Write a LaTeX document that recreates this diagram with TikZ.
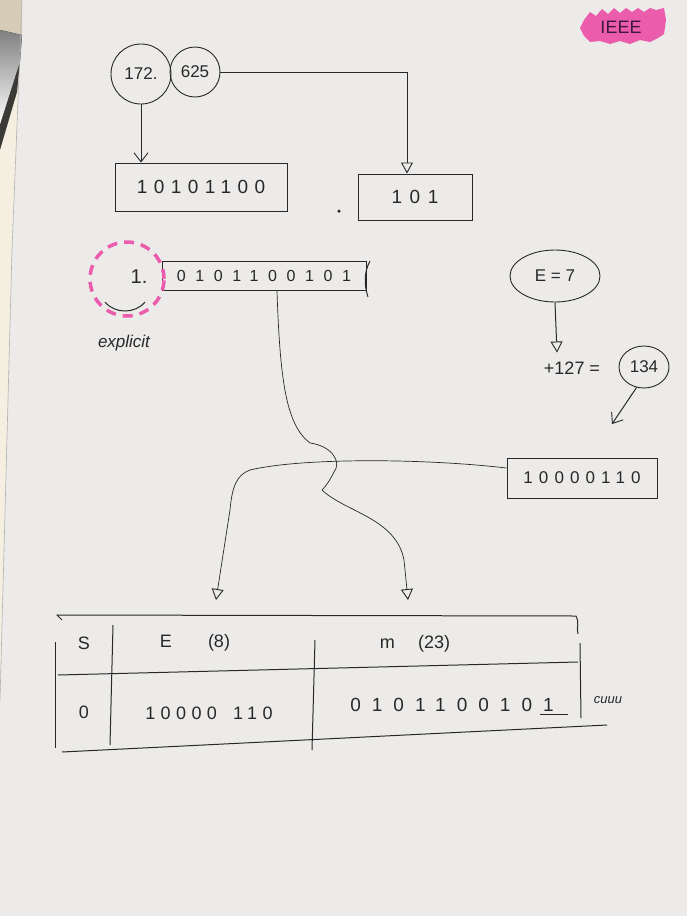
\documentclass[tikz,border=0pt]{standalone}
\usepackage{fontspec}
\setmainfont{Liberation Sans}
\newfontfamily\hand{Liberation Sans}
\newcommand{\lsp}[1]{\addfontfeature{LetterSpace=#1}}
\usetikzlibrary{arrows.meta,shapes.geometric,calc}
\definecolor{paper}{RGB}{236,235,233}
\definecolor{ink}{RGB}{40,40,40}
\definecolor{hipink}{RGB}{236,92,172}
\definecolor{beige}{RGB}{214,204,184}
\definecolor{shade}{RGB}{198,196,198}
\definecolor{dark}{RGB}{60,58,55}
\definecolor{cream}{RGB}{244,239,224}
\definecolor{plum}{RGB}{60,25,60}
\begin{document}
\begin{tikzpicture}[x=1pt,y=-1pt,
  pen/.style={draw=ink, line width=1pt},
  thin/.style={draw=ink, line width=0.7pt},
  valbox/.style={draw=ink, line width=1pt, rectangle, inner sep=0pt, text=ink},
  ring/.style={draw=ink, line width=0.9pt, ellipse, inner sep=0pt, text=ink,
     font=\fontsize{17}{20}\selectfont},
  lbl/.style={text=ink, inner sep=1pt, font=\fontsize{18}{21}\selectfont},
  openhead/.style={-{Triangle[open,length=11pt,width=12pt,line width=0.9pt]}},
  barb/.style={-{Straight Barb[length=9pt,width=14pt,line width=0.9pt]}}
]
\useasboundingbox (0,0) rectangle (687,916);
% background
\fill[paper] (0,0) rectangle (687,916);
\fill[cream] (0,0) -- (22,0) -- (12,250) -- (0,700) -- cycle;
\fill[beige] (0,0) -- (22,0) -- (22,35) -- (0,30) -- cycle;
\fill[shade] (0,30) -- (22,35) -- (20,62) -- (0,125) -- cycle;
\fill[dark] (20,62) -- (0,125) -- (0,150) -- (17,92) -- cycle;
\draw[gray!60, line width=0.6pt] (22,0) -- (12,250) -- (0,700);

% IEEE highlight
\fill[hipink] (584,20) -- (590,12) -- (596,16) -- (602,9) -- (608,14) -- (614,8) -- (620,13)
  -- (626,8) -- (632,12) -- (638,8) -- (644,12) -- (650,8) -- (656,10) -- (664,8)
  -- (666,20) -- (664,34) -- (658,38) -- (650,42) -- (640,40) -- (630,44) -- (620,41)
  -- (610,44) -- (600,41) -- (590,42) -- (584,36) -- (580,28) -- cycle;
\node[text=plum, font=\fontsize{18}{21}\selectfont] (ieee) at (621,27) {IEEE};

% top: number split
\node[ring, circle, minimum size=60pt] (c172) at (141,74) {172.};
\node[ring, circle, minimum size=50pt] (c625) at (195,72) {625};
\node[valbox, minimum width=172pt, minimum height=48pt,
  font=\hand\fontsize{19}{22}\selectfont\lsp{34}] (bint) at (201,187) {10101100};
\node[valbox, minimum width=114pt, minimum height=46pt,
  font=\hand\fontsize{19}{22}\selectfont\lsp{40}] (bfrac) at (415,197) {101};
\node[circle, fill=ink, inner sep=0pt, minimum size=3.5pt] (dot) at (339,211) {};
\draw[pen, barb] (c172.south) -- (c172.south |- bint.north);
\draw[pen, openhead] (c625.east) -| ($(bfrac.north)+(-8,0)$);

% normalized mantissa
\node[valbox, minimum width=204pt, minimum height=29pt,
  font=\hand\fontsize{16}{19}\selectfont\lsp{60}] (mant) at (264,276) {0101100101};
\draw[pen] (370,261) .. controls (364,272) and (364,285) .. (368,297);
\node[circle, draw=hipink, line width=3.5pt, dash pattern=on 10pt off 7pt,
  minimum size=74pt, inner sep=0pt] (hid) at (127,279) {};
\node[lbl, font=\fontsize{20}{23}\selectfont] (one) at (139,277) {1.};
\draw[pen] (105,302) .. controls (115,314) and (135,314) .. (145,302);
\node[lbl, font=\itshape\fontsize{17}{20}\selectfont] (expl) at (124,343) {explicit};

% exponent
\node[ring, minimum width=90pt, minimum height=52pt] (e7) at (555,276) {E = 7};
\node[lbl] (plus) at (572,368) {+127 =};
\node[ring, minimum width=50pt, minimum height=42pt] (c134) at (644,367) {134};
\draw[pen, openhead] (e7.south) -- ($(plus.north)+(-15,-8)$);
\coordinate (p134) at (612,424);
\draw[pen, barb] (c134.250) -- (p134);
\node[valbox, minimum width=150pt, minimum height=40pt,
  font=\hand\fontsize{17}{20}\selectfont\lsp{36}] (bexp) at (582,478) {10000110};

% connectors into the table
\coordinate (tE) at (216,600);
\coordinate (tM) at (408,600);
\draw[thin, openhead] ($(mant.south)+(13,0)$) .. controls (280,380) and (286,425) .. (310,443)
  .. controls (332,446) and (342,462) .. (334,472)
  .. controls (330,480) and (326,486) .. (322,490)
  .. controls (345,512) and (396,518) .. (404,560) -- (tM);
\draw[thin, openhead] ($(bexp.west)+(0,-10)$) .. controls (420,458) and (300,458) .. (250,470)
  .. controls (236,475) and (232,488) .. (230,510) -- (tE);

% table
\draw[pen] (62,620) -- (57,615) -- (576,616) .. controls (580,622) and (576,628) .. (578,634);
\draw[pen] (55,642) -- (55,748);
\draw[pen] (113,625) -- (110,745);
\draw[pen] (315,640) -- (312,750);
\draw[pen] (580,643) -- (581,718);
\draw[pen] (58,675) -- (578,662);
\draw[pen] (62,752) -- (607,725);

\node[lbl] (hs) at (84,643) {S};
\node[lbl] (he) at (195,643) {E\hspace{2em}(8)};
\node[lbl] (hm) at (415,644) {m\hspace{1.3em}(23)};
\node[lbl] (vs) at (84,712) {0};
\node[lbl, font=\hand\fontsize{18}{21}\selectfont\lsp{30}] (ve) at (209,713) {10000\hspace{0.9em}110};
\node[lbl, font=\hand\fontsize{19}{22}\selectfont\lsp{58}] (vm) at (452,705) {0101100101};
\draw[pen] (540,714) -- (568,714);
\node[lbl, font=\itshape\fontsize{13}{15}\selectfont] (scrib) at (608,700) {cuuu};
\end{tikzpicture}
\end{document}
